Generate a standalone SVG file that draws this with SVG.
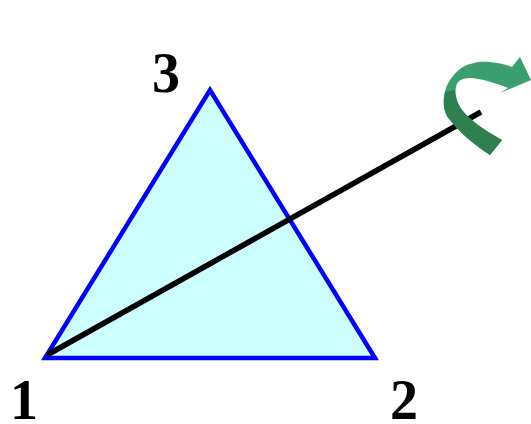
<svg xmlns="http://www.w3.org/2000/svg" width="531" height="424" viewBox="0 0 531 424">
<style>
.lbl{font-family:"Liberation Serif",serif;font-weight:bold;font-size:56px;fill:#000}
</style>
<rect width="531" height="424" fill="#fff"/>
<g id="triangle">
<polygon points="45,358 375,358 210,90" fill="#CCFFFF" stroke="#0000FF" stroke-width="4.5" stroke-linejoin="miter"/>
</g>
<g id="connectors">
<line x1="47" y1="355" x2="481" y2="112" stroke="#000" stroke-width="5.5"/>
</g>
<g id="rotation-arrow">
<path d="M490,155 L502,140 C488,132 468,120 460,107 C455,98 454,88 458,82 C462,78 470,77 478,79 C490,81 500,85 508,88 L500,93 L531,80 L520,57 L512,67 C505,64 498,63 490,62 C480,61 470,63 463,67 C455,72 449,80 446,88 C442,100 443,112 450,120 C460,133 475,145 490,155 Z" fill="#3A9E6F"/>
<path d="M490,155 L502,140 C488,132 468,120 460,107 C456,100 455,95 455,90 L445,92 C443,102 443,112 450,120 C460,133 475,145 490,155 Z" fill="#2E8050"/>
</g>
<g id="label-3"><text class="lbl" x="152" y="92">3</text></g>
<g id="label-1"><text class="lbl" x="10" y="419">1</text></g>
<g id="label-2"><text class="lbl" x="390" y="419">2</text></g>
</svg>
